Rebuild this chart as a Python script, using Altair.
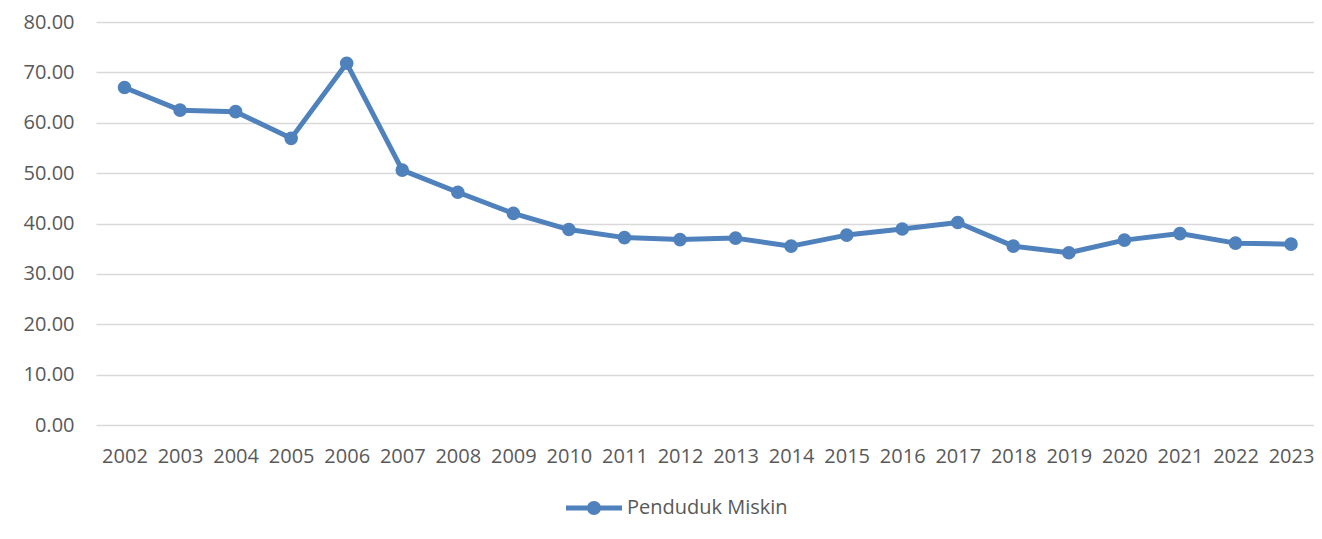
import altair as alt
import pandas as pd

years = [str(y) for y in range(2002, 2024)]
values = [67.0, 62.5, 62.2, 56.9, 71.8, 50.6, 46.2, 42.0, 38.8, 37.2, 36.8,
          37.1, 35.5, 37.7, 38.9, 40.2, 35.5, 34.2, 36.7, 38.0, 36.1, 35.9]
series_name = "Penduduk Miskin"

df = pd.DataFrame({"Tahun": years, "Nilai": values, "Seri": series_name})

FONT = "Open Sans"
TXT = "#595959"
BLUE = "#4F81BD"

x_enc = alt.X("Tahun:N", sort=years,
              scale=alt.Scale(type="point", padding=0.463, align=0.554),
              axis=alt.Axis(title=None, labelAngle=0, domain=False, ticks=False,
                            grid=False, labelPadding=21))
y_enc = alt.Y("Nilai:Q",
              scale=alt.Scale(domain=[0, 80], nice=False, zero=True),
              axis=alt.Axis(title=None, values=list(range(0, 81, 10)), format=".2f",
                            domain=False, ticks=False, labelPadding=22,
                            gridColor="#D9D9D9", gridWidth=1.5))

line = alt.Chart(df).mark_line(strokeWidth=5, color=BLUE, strokeJoin="round").encode(
    x=x_enc, y=y_enc)

legend_path = ("M-1,-0.09 L1,-0.09 L1,0.09 L-1,0.09 Z "
               "M-0.25,0 A0.25,0.25 0 1,1 0.25,0 A0.25,0.25 0 1,1 -0.25,0 Z")

points = alt.Chart(df).mark_circle(size=185, opacity=1).encode(
    x=x_enc, y=y_enc,
    color=alt.Color("Seri:N", scale=alt.Scale(domain=[series_name], range=[BLUE]),
                    legend=alt.Legend(title=None, orient="none", legendX=470, legendY=458,
                                      symbolType=legend_path, symbolSize=3136,
                                      symbolStrokeWidth=0, symbolOpacity=1,
                                      labelFont=FONT, labelFontSize=20, labelLimit=0,
                                      labelColor=TXT, labelOffset=5, padding=0)))

chart = alt.layer(line, points).properties(
    width=1218, height=403,
    autosize=alt.AutoSizeParams(type="none"),
    padding={"left": 88, "top": 14, "right": 0, "bottom": 106},
).configure_view(stroke=None).configure_axis(
    labelFont=FONT, labelFontSize=20, labelColor=TXT
)

chart.save("out.html", embed_options={"renderer": "svg", "actions": False})
